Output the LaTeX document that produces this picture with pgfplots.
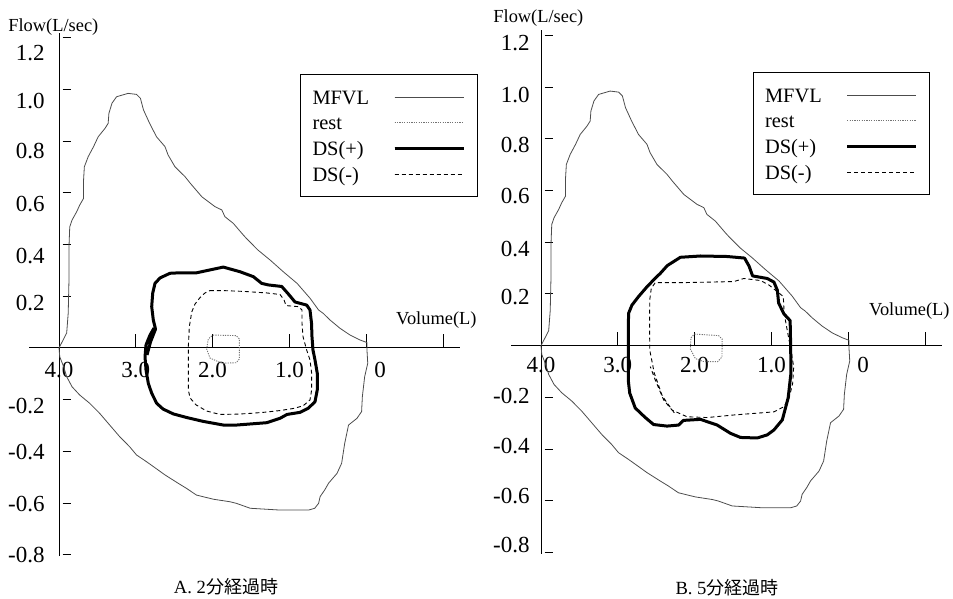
\documentclass[border=0pt]{standalone}
\usepackage{pgfplots}
\pgfplotsset{compat=1.18}
\usepackage{pgfplotstable}
\usepackage{fontspec}
\setmainfont{Liberation Serif}
\newfontfamily\cjk{Noto Sans CJK JP}

% Maximal flow-volume loop (same in both panels)
\pgfplotstableread{
V F
4.00 0.000
3.90 0.058
3.88 0.135
3.87 0.263
3.87 0.392
3.86 0.469
3.83 0.495
3.77 0.527
3.73 0.553
3.68 0.579
3.68 0.650
3.67 0.701
3.62 0.740
3.55 0.779
3.49 0.817
3.40 0.850
3.36 0.869
3.35 0.908
3.31 0.947
3.25 0.972
3.10 0.985
2.99 0.981
2.94 0.966
2.90 0.921
2.82 0.869
2.73 0.817
2.62 0.779
2.58 0.747
2.49 0.701
2.36 0.663
2.29 0.637
2.14 0.585
1.97 0.547
1.88 0.534
1.84 0.508
1.73 0.482
1.60 0.437
1.56 0.424
1.41 0.379
1.25 0.340
1.08 0.295
0.90 0.250
0.73 0.192
0.62 0.147
0.56 0.134
0.47 0.108
0.34 0.076
0.21 0.050
0.08 0.031
-0.01 0.021
-0.01 -0.008
-0.02 -0.059
0.02 -0.111
0.05 -0.188
0.06 -0.246
0.12 -0.272
0.23 -0.298
0.28 -0.369
0.32 -0.446
0.38 -0.485
0.49 -0.523
0.54 -0.549
0.60 -0.575
0.62 -0.601
0.67 -0.620
0.75 -0.627
1.12 -0.627
1.51 -0.620
1.69 -0.601
1.77 -0.595
1.99 -0.585
2.21 -0.569
2.34 -0.543
2.45 -0.523
2.62 -0.491
2.77 -0.459
2.86 -0.440
2.99 -0.414
3.08 -0.382
3.21 -0.343
3.34 -0.298
3.47 -0.253
3.60 -0.214
3.73 -0.182
3.83 -0.150
3.90 -0.111
3.94 -0.072
3.99 -0.034
4.00 0.000
}\mfvl

% Panel A
\pgfplotstableread{
V F
1.995 0.050
1.695 0.048
1.652 0.035
1.652 -0.043
1.695 -0.057
1.878 -0.059
2.034 -0.039
2.077 -0.004
2.056 0.035
1.995 0.050
}\restA

\pgfplotstableread{
V F
2.854 -0.027
2.809 0.023
2.743 0.073
2.772 0.108
2.793 0.160
2.780 0.212
2.750 0.250
2.685 0.271
2.555 0.289
2.424 0.291
2.207 0.291
2.034 0.302
1.861 0.313
1.643 0.295
1.470 0.276
1.361 0.250
1.275 0.244
1.100 0.238
1.014 0.209
0.927 0.178
0.775 0.166
0.732 0.147
0.712 0.096
0.706 0.044
0.693 -0.008
0.667 -0.046
0.637 -0.098
0.637 -0.162
0.667 -0.208
0.754 -0.233
0.862 -0.249
1.031 -0.257
1.122 -0.272
1.296 -0.289
1.513 -0.294
1.686 -0.298
1.861 -0.298
2.121 -0.284
2.337 -0.269
2.512 -0.255
2.646 -0.236
2.728 -0.214
2.793 -0.175
2.837 -0.137
2.867 -0.085
2.880 -0.034
2.867 0.012
2.815 0.050
2.763 0.077
}\dspA

\pgfplotstableread{
V F
2.034 0.222
1.861 0.222
1.600 0.219
1.296 0.213
1.122 0.207
1.070 0.186
1.044 0.164
0.884 0.160
0.836 0.147
0.836 0.096
0.823 0.044
0.775 -0.008
0.732 -0.046
0.710 -0.098
0.710 -0.162
0.732 -0.201
0.823 -0.224
0.949 -0.234
1.122 -0.242
1.340 -0.249
1.513 -0.253
1.686 -0.256
1.904 -0.257
2.077 -0.244
2.216 -0.220
2.294 -0.193
2.316 -0.162
2.316 -0.085
2.316 0.005
2.303 0.082
2.272 0.139
2.229 0.170
2.164 0.195
2.099 0.213
2.034 0.222
}\dsmA

% Panel B
\pgfplotstableread{
V F
2.003 0.045
1.689 0.039
1.641 0.026
1.644 -0.044
1.702 -0.062
1.885 -0.061
1.990 -0.050
2.055 -0.013
2.048 0.030
2.003 0.045
}\restB

\pgfplotstableread{
V F
2.446 0.280
2.355 0.310
2.185 0.342
1.924 0.347
1.576 0.345
1.350 0.339
1.291 0.308
1.245 0.270
1.054 0.260
0.967 0.246
0.923 0.215
0.906 0.165
0.837 0.123
0.756 0.097
0.749 -0.004
0.746 -0.107
0.782 -0.202
0.858 -0.287
0.967 -0.326
1.054 -0.345
1.184 -0.357
1.402 -0.355
1.533 -0.339
1.706 -0.307
1.924 -0.285
2.146 -0.289
2.208 -0.307
2.359 -0.311
2.534 -0.305
2.642 -0.278
2.773 -0.241
2.845 -0.183
2.864 -0.133
2.864 0.022
2.860 0.125
2.816 0.157
2.730 0.190
2.620 0.228
2.512 0.261
2.446 0.280
}\dspB

\pgfplotstableread{
V F
2.264 -0.260
2.420 -0.195
2.525 -0.106
2.584 -0.017
2.586 0.099
2.584 0.177
2.564 0.222
2.512 0.244
2.142 0.244
1.490 0.248
1.359 0.260
1.141 0.252
1.033 0.235
0.923 0.209
0.845 0.190
0.834 0.125
0.802 0.073
0.762 0.009
0.710 -0.081
0.723 -0.145
0.769 -0.202
0.837 -0.236
0.967 -0.256
1.490 -0.268
1.837 -0.278
2.098 -0.275
2.294 -0.249
2.403 -0.210
2.512 -0.133
2.577 -0.081
}\dsmB

\newcommand{\yl}[2]{\raisebox{-#1}[\height][\depth]{#2}}

\pgfplotsset{
  fvl/.style={
    x=38.4pt, y=129.25pt,
    xmin=-0.39, xmax=5.22, ymin=-0.805, ymax=1.22,
    axis lines=middle,
    axis line style={-, black, line width=0.5pt},
    hide obscured x ticks=false,
    tick align=inside,
    major tick length=7pt,
    xtick={0,1,2,3,4,5},
    ytick=\empty,
    extra y ticks={-0.8,-0.6,-0.4,-0.2,0.2,0.4,0.6,0.8,1.0,1.2},
    extra y tick style={major tick length=4pt, tick style={xshift=1.75pt}},
    tick style={black, line width=0.5pt},
    ticklabel style={font=\fontsize{11.5}{13}\selectfont, inner sep=0pt},
    legend plot pos=right,
    legend cell align=left,
    legend style={draw=black, line width=0.5pt, inner xsep=6pt, inner ysep=5.3pt,
      row sep=0.83pt, column sep=12pt, font=\fontsize{10.2}{12}\selectfont,
      nodes={inner sep=0pt, text height=9.5pt, text depth=2.5pt}, anchor=north west},
    legend image code/.code={\draw[##1] (0pt,0pt) -- (30pt,0pt); \path (0pt,0pt) -- (34.5pt,0pt);},
    label style={font=\fontsize{9.2}{11}\selectfont, inner sep=0pt},
    xlabel={Volume(L)}, ylabel={Flow(L/sec)},
    clip=false,
  },
  mfvlst/.style={black!70, line width=0.4pt, line join=round},
  restst/.style={black!55, line width=0.45pt, dash pattern=on 0.6pt off 0.6pt},
  dspst/.style={black, line width=1.5pt, line join=round},
  dsmst/.style={black, line width=0.45pt, dash pattern=on 2pt off 1.5pt},
}

\begin{document}
\begin{tikzpicture}
\path[use as bounding box] (0pt,0pt) rectangle (476.5pt,299.5pt);

\begin{axis}[fvl, at={(29.5pt,125.5pt)}, anchor=origin,
  xticklabels={4.0,3.0,2.0,1.0,\hspace*{14pt}0,{}},
  xticklabel style={anchor=north, yshift=-7pt},
  yticklabel style={anchor=east, xshift=-7pt},
  extra y tick labels={\yl{0pt}{-0.8},\yl{0.5pt}{-0.6},\yl{0.5pt}{-0.4},\yl{3pt}{-0.2},\yl{3.5pt}{0.2},\yl{5.5pt}{0.4},\yl{5.5pt}{0.6},\yl{5pt}{0.8},\yl{6pt}{1.0},\yl{7.75pt}{1.2}},
  xlabel style={at={(axis cs:5.22,0)}, anchor=base east, xshift=8.5pt, yshift=11.5pt},
  ylabel style={at={(axis cs:0,1.22)}, anchor=base west, xshift=-25.5pt, yshift=0.8pt, rotate=0},
  legend style={at={(axis cs:3.138,1.06)}},
]
\addplot[mfvlst] table[x expr=4-\thisrow{V}, y=F] {\mfvl};
\addplot[restst] table[x expr=4-\thisrow{V}, y=F] {\restA};
\addplot[dspst] table[x expr=4-\thisrow{V}, y=F] {\dspA};
\addplot[dsmst] table[x expr=4-\thisrow{V}, y=F] {\dsmA};
\legend{MFVL,rest,DS(+),DS(-)}
\end{axis}

\begin{axis}[fvl, at={(270.5pt,126.65pt)}, anchor=origin,
  xticklabels={4.0,3.0,2.0,1.0,\hspace*{15pt}0,{}},
  xticklabel style={anchor=north, yshift=-5.5pt},
  yticklabel style={anchor=east, xshift=-5.5pt},
  extra y tick labels={\yl{-3.5pt}{-0.8},\yl{-2.5pt}{-0.6},\yl{-1.5pt}{-0.4},\yl{-0.75pt}{-0.2},\yl{1.5pt}{0.2},\yl{3.25pt}{0.4},\yl{2.75pt}{0.6},\yl{3pt}{0.8},\yl{3.75pt}{1.0},\yl{3.75pt}{1.2}},
  xlabel style={at={(axis cs:5.22,0)}, anchor=base east, xshift=4pt, yshift=15pt},
  ylabel style={at={(axis cs:0,1.22)}, anchor=base west, xshift=-24pt, yshift=4.15pt, rotate=0},
  legend style={at={(axis cs:2.755,1.059)}},
]
\addplot[mfvlst] table[x expr=4-\thisrow{V}, y=F] {\mfvl};
\addplot[restst] table[x expr=4-\thisrow{V}, y=F] {\restB};
\addplot[dspst] table[x expr=4-\thisrow{V}, y=F] {\dspB};
\addplot[dsmst] table[x expr=4-\thisrow{V}, y=F] {\dsmB};
\legend{MFVL,rest,DS(+),DS(-)}
\end{axis}

\node[anchor=base, inner sep=0pt] at (113pt,2.5pt) {{\fontsize{9.3}{11}\selectfont A.\ 2}{\fontsize{9}{11}\selectfont\cjk 分経過時}};
\node[anchor=base, inner sep=0pt] at (363.5pt,2pt) {{\fontsize{9.3}{11}\selectfont B.\ 5}{\fontsize{9}{11}\selectfont\cjk 分経過時}};
\end{tikzpicture}
\end{document}
